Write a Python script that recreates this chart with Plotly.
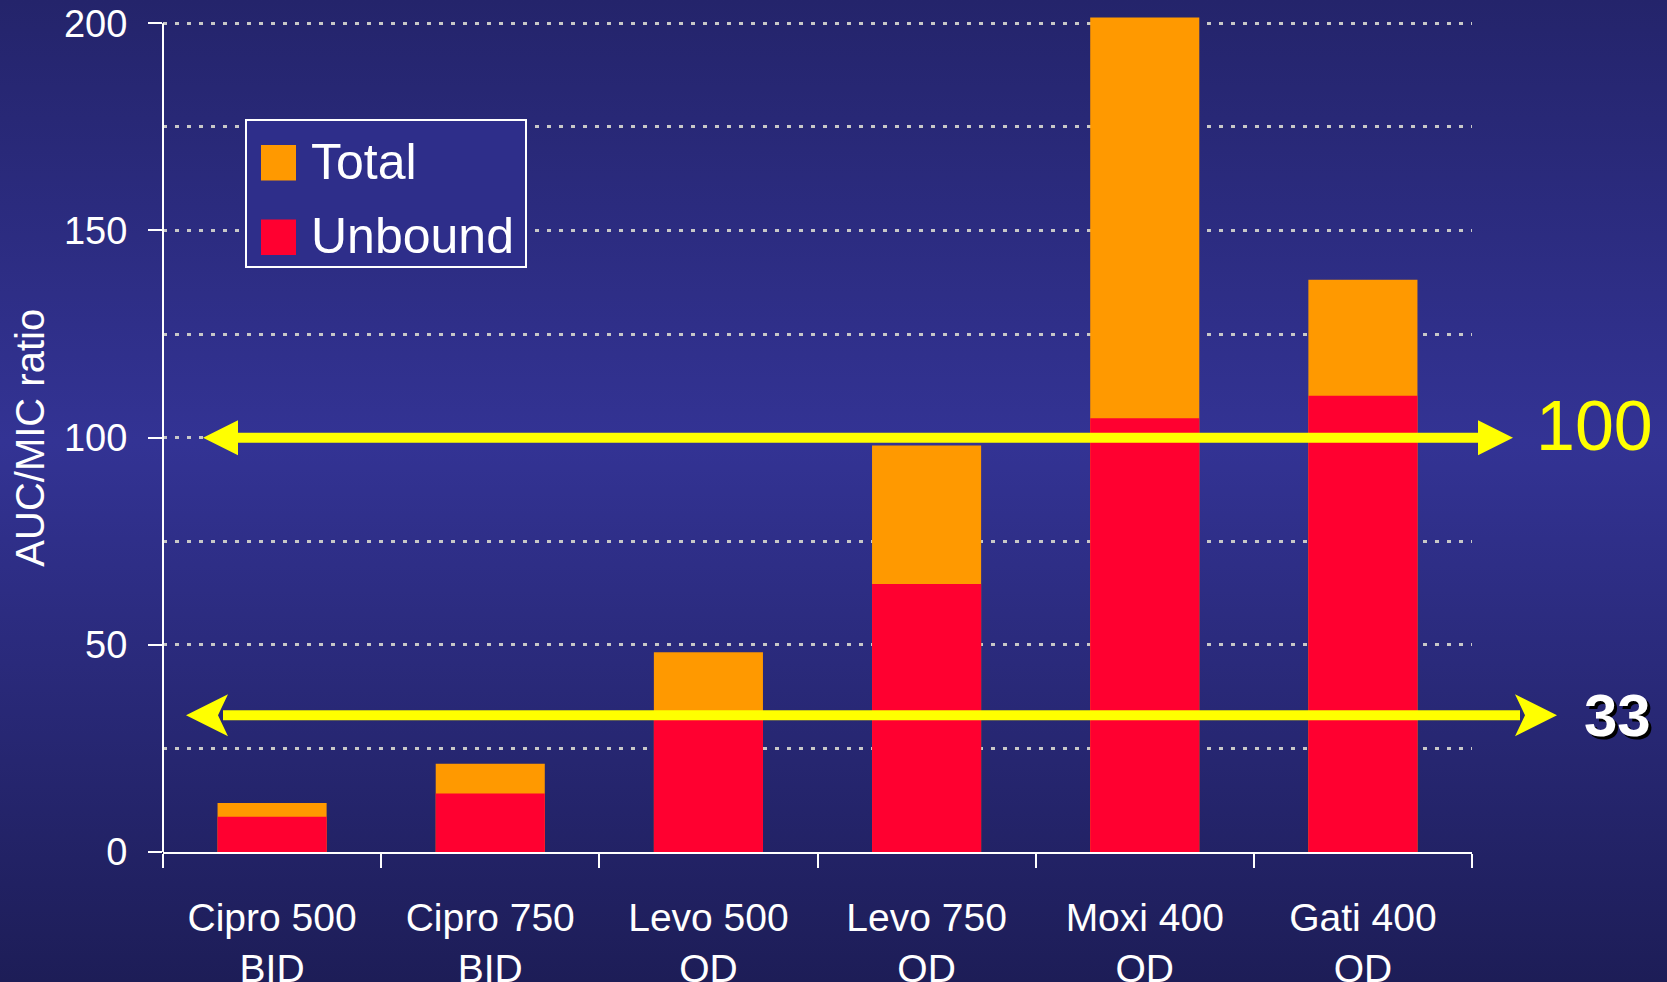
import base64
import plotly.graph_objects as go

# ---- data -------------------------------------------------------------
regimens = ["Cipro 500<br>BID", "Cipro 750<br>BID", "Levo 500<br>QD",
            "Levo 750<br>QD", "Moxi 400<br>QD", "Gati 400<br>QD"]
total = [11.8, 21.3, 48.2, 98.1, 201.4, 138.1]
unbound = [8.5, 14.1, 33.0, 64.7, 104.7, 110.1]
targets = [100, 33]
y_ticks = [0, 50, 100, 150, 200]
y_minor = [25, 75, 125, 175]

# ---- geometry ---------------------------------------------------------
W, H = 1667, 982
ML, MR, MT, MB = 163, 195, 15, 130
PW, PH = W - ML - MR, H - MT - MB
Y_MAX = 202
PX_PER_UNIT = PH / Y_MAX


def xp(px):
    """pixel column -> paper x"""
    return (px - ML) / PW


def yd(py):
    """pixel row -> data y"""
    return (H - MB - py) / PX_PER_UNIT


def dx(px):
    return px / PW


def dy(px):
    return px / PX_PER_UNIT


ORANGE = "#FF9900"
RED = "#FF0030"
YELLOW = "#FFFF00"
GRID = "#c8c8c8"
FONT = "Liberation Sans, Arial, sans-serif"

# vertical navy gradient behind everything
svg = (
    f'<svg xmlns="http://www.w3.org/2000/svg" width="{W}" height="{H}" '
    f'preserveAspectRatio="none" viewBox="0 0 {W} {H}">'
    '<defs><linearGradient id="g" x1="0" y1="0" x2="0" y2="1">'
    '<stop offset="0" stop-color="#24246b"/>'
    '<stop offset="0.45" stop-color="#333394"/>'
    '<stop offset="1" stop-color="#1d1d57"/>'
    '</linearGradient></defs>'
    f'<rect width="{W}" height="{H}" fill="url(#g)"/></svg>'
)
bg_uri = "data:image/svg+xml;base64," + base64.b64encode(svg.encode()).decode()

fig = go.Figure()
x_idx = list(range(len(regimens)))
fig.add_bar(x=x_idx, y=total, name="Total", marker_color=ORANGE,
            marker_line_width=0, width=0.5, showlegend=False)
fig.add_bar(x=x_idx, y=unbound, name="Unbound", marker_color=RED,
            marker_line_width=0, width=0.5, showlegend=False)

shapes = []
# y axis line up to 200
shapes.append(dict(type="line", xref="paper", yref="y", x0=0, x1=0,
                   y0=0, y1=y_ticks[-1], line=dict(color="white", width=2),
                   layer="above"))

# target arrows: (value, left tip px, right tip px, head len, half height, notch)
arrow_specs = [
    (targets[0], 203, 1513, 35, 17.5, 0),
    (targets[1], 186, 1557, 42, 21, 10),
]
for val, lt, rt, hl, hh, notch in arrow_specs:
    xl, xr = xp(lt), xp(rt)
    L, Hh, N = dx(hl), dy(hh), dx(notch)
    shapes.append(dict(type="line", xref="paper", yref="y",
                       x0=xl + L - N * 0.5, x1=xr - L + N * 0.5, y0=val, y1=val,
                       line=dict(color=YELLOW, width=10), layer="above"))
    for tip, s in ((xl, 1), (xr, -1)):
        back = tip + s * L
        path = (f"M{tip},{val} L{back},{val + Hh} "
                f"L{back - s * N},{val} L{back},{val - Hh} Z")
        shapes.append(dict(type="path", xref="paper", yref="y", path=path,
                           fillcolor=YELLOW, line=dict(width=0), layer="above"))

# legend box and swatches
shapes.append(dict(type="rect", xref="paper", yref="y",
                   x0=xp(246), x1=xp(526), y0=yd(267), y1=yd(120),
                   fillcolor="#2e2e8a", line=dict(color="white", width=2),
                   layer="above"))
legend_items = [("Total", ORANGE, 145, 180.5), ("Unbound", RED, 219.5, 255)]
annotations = []
for label, col, top, bot in legend_items:
    shapes.append(dict(type="rect", xref="paper", yref="y",
                       x0=xp(261), x1=xp(296), y0=yd(bot), y1=yd(top),
                       fillcolor=col, line=dict(width=0), layer="above"))
    annotations.append(dict(text=label, xref="paper", yref="y", x=xp(309),
                            y=yd((top + bot) / 2 - 1), xanchor="left",
                            yanchor="middle", showarrow=False,
                            font=dict(family=FONT, size=50, color="white")))

annotations.append(dict(text=str(targets[0]), xref="paper", yref="y",
                        x=xp(1534), y=targets[0] + dy(12), xanchor="left",
                        yanchor="middle", showarrow=False,
                        font=dict(family=FONT, size=70, color=YELLOW)))
annotations.append(dict(text=f"<b>{targets[1]}</b>", xref="paper", yref="y",
                        x=xp(1582), y=targets[1], xanchor="left",
                        yanchor="middle", showarrow=False,
                        font=dict(family=FONT, size=60, color="white",
                                  shadow="3px 3px 0px #000000")))
annotations.append(dict(text="AUC/MIC ratio", xref="paper", yref="y",
                        x=xp(30), y=100, textangle=-90, xanchor="center",
                        yanchor="middle", showarrow=False,
                        font=dict(family=FONT, size=40, color="white")))

fig.update_layout(
    width=W, height=H,
    margin=dict(l=ML, r=MR, t=MT, b=MB, pad=0, autoexpand=False),
    barmode="overlay",
    paper_bgcolor="#2a2a80",
    plot_bgcolor="rgba(0,0,0,0)",
    font=dict(family=FONT, color="white"),
    showlegend=False,
    shapes=shapes,
    annotations=annotations,
    images=[dict(source=bg_uri, xref="paper", yref="paper",
                 x=-ML / PW, y=1 + MT / PH, sizex=W / PW, sizey=H / PH,
                 xanchor="left", yanchor="top", sizing="stretch",
                 layer="below")],
)
fig.update_xaxes(
    automargin=False,
    range=[-0.5, len(regimens) - 0.5],
    tickmode="array", tickvals=x_idx, ticktext=regimens, ticks="",
    ticklabelstandoff=30,
    tickfont=dict(family=FONT, size=39, color="white"),
    showline=True, linecolor="white", linewidth=2,
    showgrid=False, zeroline=False,
    minor=dict(tickmode="array",
               tickvals=[i - 0.5 for i in range(len(regimens) + 1)],
               ticks="outside", ticklen=14, tickwidth=2, tickcolor="white",
               showgrid=False),
)
fig.update_yaxes(
    automargin=False,
    range=[0, Y_MAX],
    tickmode="array", tickvals=y_ticks, ticks="outside", ticklen=14,
    tickwidth=2, tickcolor="white", ticklabelstandoff=13,
    tickfont=dict(family=FONT, size=38, color="white"),
    showline=False, zeroline=False,
    showgrid=True, gridcolor=GRID, gridwidth=3, griddash="4px,8px",
    minor=dict(tickmode="array", tickvals=y_minor, ticks="",
               showgrid=True, gridcolor=GRID, gridwidth=3,
               griddash="4px,8px"),
)

fig.write_html("out.html")
